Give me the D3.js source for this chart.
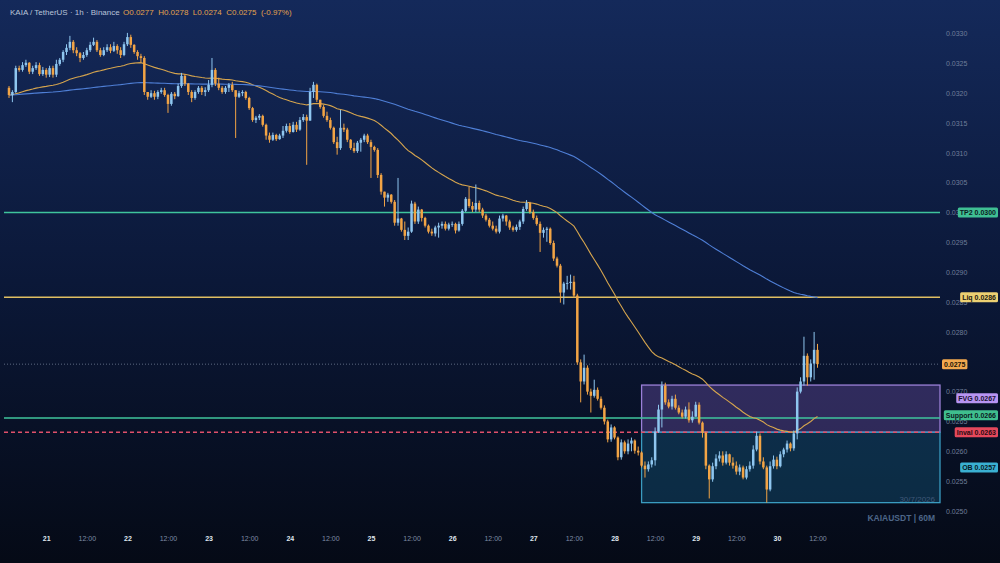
<!DOCTYPE html>
<html><head><meta charset="utf-8">
<script src="https://cdn.jsdelivr.net/npm/d3@7"></script>
<style>html,body{margin:0;padding:0;background:#0a1530;} svg{display:block}</style>
</head><body>
<svg id="c" width="1000" height="563"></svg>
<script>
// ---------- DATA ----------
const symbolTitle = "KAIA / TetherUS · 1h · Binance";
const headerChange = "-0.97%";
const startTime = Date.UTC(2026, 6, 20, 13); // first hourly candle
const firstOpen = 0.03209;
const closes = [
.03197,.03202,.03242,.03239,.03247,.03251,.03236,.03242,.03247,.03232,
.03239,.03231,.03242,.03231,.03249,.03256,.03269,.03276,.03286,.03272,
.03267,.03259,.03264,.03272,.03281,.03286,.03272,.03264,.03272,.03277,
.03271,.03279,.03272,.03264,.03282,.03294,.03281,.03269,.03262,.03259,
.03202,.03194,.03200,.03194,.03202,.03205,.03197,.03182,.03199,.03195,
.03212,.03229,.03216,.03202,.03192,.03202,.03209,.03202,.03205,.03214,
.03239,.03216,.03209,.03202,.03209,.03214,.03205,.03194,.03200,.03202,
.03192,.03175,.03155,.03159,.03162,.03147,.03129,.03122,.03130,.03123,
.03129,.03137,.03145,.03135,.03147,.03139,.03155,.03160,.03154,.03202,
.03214,.03189,.03177,.03162,.03155,.03142,.03118,.03108,.03142,.03139,
.03122,.03108,.03103,.03117,.03122,.03129,.03118,.03110,.03105,.03063,
.03035,.03025,.03030,.03018,.02983,.02990,.02971,.02961,.02968,.03015,
.02985,.03005,.02991,.02978,.02968,.02965,.02975,.02978,.02981,.02973,
.02980,.02981,.02970,.02981,.03003,.03023,.03011,.03005,.03016,.03005,
.02995,.02988,.02978,.02973,.02968,.02990,.02995,.02985,.02975,.02971,
.02976,.02985,.03006,.03016,.03001,.02991,.02981,.02966,.02971,.02973,
.02949,.02923,.02911,.02866,.02881,.02882,.02884,.02861,.02749,.02717,
.02740,.02700,.02693,.02703,.02688,.02673,.02650,.02620,.02640,.02623,
.02590,.02615,.02600,.02613,.02618,.02601,.02598,.02576,.02570,.02578,
.02585,.02633,.02670,.02710,.02682,.02675,.02688,.02673,.02665,.02658,
.02670,.02652,.02658,.02678,.02648,.02631,.02576,.02553,.02575,.02588,
.02593,.02581,.02595,.02581,.02576,.02566,.02573,.02556,.02570,.02576,
.02603,.02626,.02583,.02573,.02536,.02575,.02586,.02575,.02595,.02603,
.02613,.02605,.02630,.02700,.02717,.02760,.02724,.02747,.02770,.02746
];
const highs = [
.03212,.03205,.03246,.03246,.03252,.03256,.03252,.03246,.03252,.03251,
.03244,.03242,.03246,.03246,.03256,.03259,.03272,.03282,.03296,.03289,
.03277,.03269,.03269,.03276,.03286,.03293,.03289,.03276,.03277,.03282,
.03282,.03286,.03282,.03277,.03286,.03301,.03298,.03282,.03272,.03266,
.03262,.03202,.03205,.03204,.03205,.03209,.03209,.03199,.03202,.03202,
.03216,.03234,.03232,.03217,.03205,.03205,.03212,.03212,.03210,.03222,
.03259,.03242,.03226,.03212,.03212,.03217,.03219,.03205,.03204,.03205,
.03204,.03194,.03177,.03162,.03165,.03164,.03149,.03134,.03134,.03132,
.03132,.03145,.03149,.03150,.03152,.03152,.03160,.03165,.03164,.03209,
.03219,.03216,.03189,.03180,.03169,.03159,.03144,.03127,.03172,.03149,
.03142,.03123,.03117,.03120,.03125,.03132,.03132,.03122,.03112,.03108,
.03066,.03035,.03033,.03031,.03021,.03058,.02991,.02985,.02975,.03020,
.03018,.03010,.03006,.02993,.02980,.02973,.02978,.02983,.02985,.02985,
.02983,.02985,.02983,.02985,.03006,.03026,.03043,.03018,.03047,.03020,
.03008,.02998,.02991,.02985,.02978,.02995,.02998,.02996,.02988,.02978,
.02980,.02988,.03010,.03021,.03018,.03005,.02995,.02985,.02975,.02976,
.02975,.02953,.02926,.02914,.02884,.02894,.02896,.02894,.02864,.02754,
.02762,.02744,.02705,.02720,.02707,.02692,.02677,.02653,.02645,.02642,
.02625,.02620,.02618,.02620,.02623,.02620,.02608,.02600,.02583,.02583,
.02590,.02640,.02678,.02717,.02715,.02687,.02693,.02695,.02677,.02670,
.02675,.02682,.02667,.02683,.02682,.02650,.02633,.02578,.02581,.02595,
.02600,.02600,.02600,.02596,.02590,.02583,.02578,.02576,.02575,.02583,
.02610,.02633,.02630,.02590,.02576,.02583,.02593,.02591,.02600,.02606,
.02618,.02615,.02635,.02707,.02724,.02792,.02764,.02754,.02800,.02780
];
const lows = [
.03192,.03185,.03200,.03236,.03236,.03244,.03232,.03232,.03239,.03229,
.03229,.03226,.03227,.03226,.03227,.03246,.03252,.03264,.03272,.03267,
.03262,.03252,.03256,.03261,.03269,.03279,.03269,.03261,.03262,.03269,
.03267,.03269,.03266,.03259,.03262,.03279,.03276,.03266,.03256,.03252,
.03197,.03189,.03192,.03189,.03190,.03199,.03194,.03167,.03179,.03190,
.03194,.03209,.03212,.03197,.03185,.03189,.03199,.03197,.03195,.03202,
.03210,.03212,.03205,.03199,.03199,.03202,.03202,.03125,.03192,.03195,
.03189,.03172,.03152,.03150,.03155,.03144,.03122,.03117,.03120,.03120,
.03122,.03125,.03134,.03132,.03134,.03135,.03137,.03152,.03080,.03154,
.03192,.03185,.03174,.03159,.03152,.03139,.03115,.03097,.03105,.03135,
.03118,.03105,.03100,.03100,.03102,.03118,.03115,.03058,.03102,.03058,
.03030,.03010,.03018,.03015,.02978,.02978,.02968,.02954,.02954,.02966,
.02981,.02981,.02985,.02975,.02965,.02961,.02960,.02958,.02973,.02970,
.02970,.02976,.02965,.02968,.02978,.03001,.03008,.03001,.03001,.03001,
.02991,.02985,.02975,.02970,.02965,.02965,.02985,.02978,.02971,.02968,
.02968,.02971,.02981,.03003,.02998,.02988,.02978,.02934,.02958,.02951,
.02946,.02919,.02908,.02849,.02846,.02871,.02871,.02857,.02745,.02682,
.02712,.02695,.02665,.02690,.02685,.02670,.02645,.02615,.02616,.02620,
.02585,.02586,.02596,.02595,.02600,.02596,.02593,.02573,.02556,.02566,
.02573,.02576,.02631,.02640,.02678,.02672,.02670,.02670,.02662,.02655,
.02655,.02648,.02648,.02660,.02645,.02623,.02570,.02521,.02549,.02570,
.02583,.02576,.02578,.02576,.02571,.02561,.02560,.02553,.02553,.02566,
.02571,.02600,.02578,.02570,.02514,.02533,.02571,.02570,.02573,.02590,
.02598,.02600,.02601,.02620,.02697,.02710,.02710,.02717,.02720,.02740
];
const yTicks = [0.0250,0.0255,0.0260,0.0265,0.0270,0.0275,0.0280,0.0285,0.0290,0.0295,0.0300,0.0305,0.0310,0.0315,0.0320,0.0325,0.0330];
const levelNames  = ["TP2", "Liq", "Support", "Inval"];
const levelValues = [0.03000, 0.02858, 0.02656, 0.02632];
const zoneNames   = ["FVG", "OB"];
const zoneTops    = [0.02711, 0.02632];
const zoneBottoms = [0.02632, 0.02514];
const zoneStart   = Date.UTC(2026, 6, 28, 8);
const emaPeriods  = [50, 200];
const dateStamp = "30/7/2026";
const footer = "KAIAUSDT | 60M";

// ---------- BUILD ----------
const HOUR = 3600000;
const candles = closes.map((c, i) => {
  const o = i === 0 ? firstOpen : closes[i - 1];
  return { t: startTime + i * HOUR, o, c, h: Math.max(highs[i], o, c), l: Math.min(lows[i], o, c) };
});
function ema(period) {
  const k = 2 / (period + 1); let e = closes[0];
  return candles.map((d, i) => { if (i > 0) e = d.c * k + e * (1 - k); return { t: d.t, v: e }; });
}

const W = 1000, H = 563, plotL = 4, plotR = 940;
const svg = d3.select("#c");
const defs = svg.append("defs");
const g = defs.append("linearGradient").attr("id", "bg").attr("x1", 0).attr("y1", 0).attr("x2", 0).attr("y2", 1);
g.append("stop").attr("offset", "0%").attr("stop-color", "#14295a");
g.append("stop").attr("offset", "50%").attr("stop-color", "#0b1838");
g.append("stop").attr("offset", "100%").attr("stop-color", "#050a16");
svg.append("rect").attr("width", W).attr("height", H).attr("fill", "url(#bg)");

const x = d3.scaleUtc().domain([startTime, startTime + (closes.length - 1) * HOUR]).range([9, 817.5]);
const y = d3.scaleLinear().domain([0.0250, 0.0330]).range([511, 33.5]);
const fmt = d3.format(".4f");
const FONT = "Liberation Sans, Arial, sans-serif";
const last = candles[candles.length - 1];

// zones
const zoneFill = ["rgba(130,95,200,0.32)", "rgba(25,110,150,0.32)"];
const zoneStroke = ["#9b80d8", "#3a9cc0"];
zoneNames.forEach((n, i) => {
  const y0 = y(zoneTops[i]), y1 = y(zoneBottoms[i]), x0 = x(zoneStart);
  svg.append("rect").attr("x", x0).attr("y", y0)
    .attr("width", plotR - x0).attr("height", y1 - y0)
    .attr("fill", zoneFill[i]).attr("stroke", zoneStroke[i]).attr("stroke-width", 1.3);
});

// y axis labels (the one hidden under the live-price tag is left out)
const yAxis = svg.append("g").attr("transform", `translate(944,0)`)
  .call(d3.axisRight(y).tickValues(yTicks.filter(v => Math.abs(y(v) - y(last.c)) > 6)).tickFormat(fmt).tickSize(0).tickPadding(2));
yAxis.select(".domain").remove();
yAxis.selectAll("text").attr("fill", "#6f7d99").attr("font-size", "7px").attr("font-family", FONT);

// x axis labels
const xTicks = d3.utcHour.every(12).range(Date.UTC(2026, 6, 21, 0), Date.UTC(2026, 6, 30, 13));
const xAxis = svg.append("g").attr("transform", `translate(0,533)`)
  .call(d3.axisBottom(x).tickValues(xTicks).tickSize(0).tickPadding(3)
    .tickFormat(d => d.getUTCHours() === 0 ? String(d.getUTCDate()) : "12:00"));
xAxis.select(".domain").remove();
xAxis.selectAll("text").attr("font-family", FONT).attr("font-size", "7px")
  .attr("fill", d => d.getUTCHours() === 0 ? "#dfe5ee" : "#7e8ba4")
  .attr("font-weight", d => d.getUTCHours() === 0 ? "bold" : "normal");

// level lines
const levelColors = ["#3fc49c", "#e0bf62", "#3fc49c", "#e0506a"];
const levelDash = [null, null, null, "4,3"];
levelNames.forEach((n, i) => {
  const yy = y(levelValues[i]);
  svg.append("line").attr("x1", plotL).attr("x2", plotR).attr("y1", yy).attr("y2", yy)
    .attr("stroke", levelColors[i]).attr("stroke-width", 1.5).attr("stroke-dasharray", levelDash[i]);
});
// current price line
svg.append("line").attr("x1", plotL).attr("x2", plotR).attr("y1", y(last.c)).attr("y2", y(last.c))
  .attr("stroke", "#5d6a82").attr("stroke-width", 1).attr("stroke-dasharray", "1,2");

// EMAs
const emaColors = ["#d6a54e", "#4f7fd6"];
emaPeriods.forEach((p, i) => {
  svg.append("path").datum(ema(p)).attr("fill", "none").attr("stroke", emaColors[i]).attr("stroke-width", 1.1)
    .attr("d", d3.line().x(d => x(d.t)).y(d => y(d.v)));
});

// candles
const UP = "#8fc6ef", DOWN = "#f2a445";
const cg = svg.append("g");
cg.selectAll("line.w").data(candles).join("line").attr("class", "w")
  .attr("x1", d => x(d.t)).attr("x2", d => x(d.t)).attr("y1", d => y(d.h)).attr("y2", d => y(d.l))
  .attr("stroke", d => d.c >= d.o ? UP : DOWN).attr("stroke-width", 1);
cg.selectAll("rect").data(candles).join("rect")
  .attr("x", d => x(d.t) - 1.25).attr("width", 2.5)
  .attr("y", d => y(Math.max(d.o, d.c))).attr("height", d => Math.max(0.8, Math.abs(y(d.o) - y(d.c))))
  .attr("fill", d => d.c >= d.o ? UP : DOWN);

// tags
function tag(text, cy, bg, fg, anchorRight, xPos) {
  const t = svg.append("text").text(text).attr("font-family", FONT).attr("font-size", "7px")
    .attr("font-weight", "bold").attr("fill", fg).attr("dominant-baseline", "central").attr("y", cy);
  const w = t.node().getComputedTextLength();
  const x0 = anchorRight ? xPos - w - 4 : xPos;
  t.attr("x", x0 + 2);
  svg.insert("rect", () => t.node()).attr("x", x0).attr("y", cy - 5).attr("width", w + 4).attr("height", 10)
    .attr("rx", 1.5).attr("fill", bg);
}
const tagItems = [
  { label: "TP2 " + fmt(levelValues[0]), v: y(levelValues[0]), bg: "#3fbf93", fg: "#0c1a22" },
  { label: "Liq " + fmt(levelValues[1]), v: y(levelValues[1]), bg: "#ecd072", fg: "#1c1a10" },
  { label: "FVG " + fmt((zoneTops[0] + zoneBottoms[0]) / 2), v: y((zoneTops[0] + zoneBottoms[0]) / 2), bg: "#b794f2", fg: "#1a1230" },
  { label: "Support " + fmt(levelValues[2]), v: y(levelValues[2]), bg: "#3fbf8e", fg: "#0c1a22" },
  { label: "Inval " + fmt(levelValues[3]), v: y(levelValues[3]), bg: "#e5485c", fg: "#2a0a10" },
  { label: "OB " + fmt((zoneTops[1] + zoneBottoms[1]) / 2), v: y((zoneTops[1] + zoneBottoms[1]) / 2), bg: "#3ab0d2", fg: "#0a1a24" }
];
// resolve overlaps bottom-up
const sorted = tagItems.slice().sort((a, b) => b.v - a.v);
sorted.forEach((d, i) => { d.p = i === 0 ? d.v : Math.min(d.v, sorted[i - 1].p - 17); });
tagItems.forEach(d => tag(d.label, d.p, d.bg, d.fg, true, 998));
tag(fmt(last.c), y(last.c), "#f3a94f", "#1c1408", false, 942);

// header
svg.append("text").attr("x", 10).attr("y", 14.5).attr("font-family", FONT).attr("font-size", "8px")
  .attr("fill", "#b9c3d8").text(symbolTitle);
svg.append("text").attr("x", 123).attr("y", 14.5).attr("font-family", FONT).attr("font-size", "8px")
  .attr("fill", "#e3a24d").attr("xml:space", "preserve")
  .text(`O${fmt(last.o)}  H${fmt(last.h)}  L${fmt(last.l)}  C${fmt(last.c)}  (${headerChange})`);

svg.append("text").attr("x", 935).attr("y", 502).attr("text-anchor", "end").attr("font-family", FONT)
  .attr("font-size", "8px").attr("fill", "#3f5878").text(dateStamp);
svg.append("text").attr("x", 935).attr("y", 521).attr("text-anchor", "end").attr("font-family", FONT)
  .attr("font-size", "8.5px").attr("font-weight", "bold").attr("fill", "#4d6688").text(footer);
</script>
</body></html>
